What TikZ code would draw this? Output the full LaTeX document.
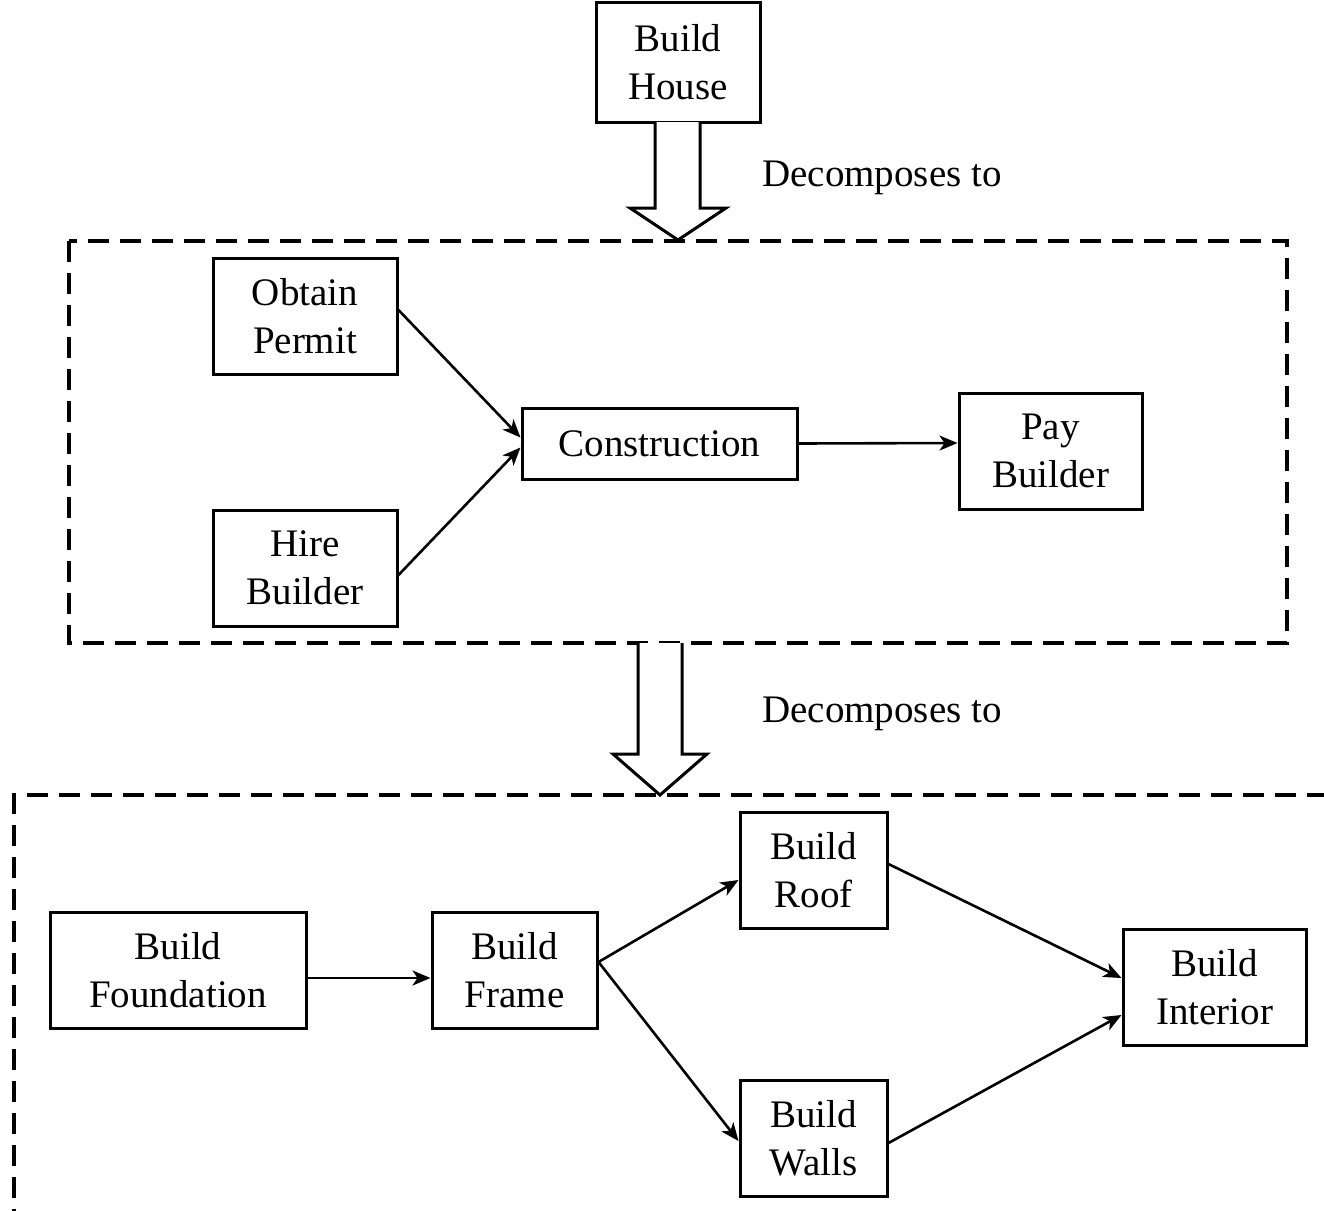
\documentclass[tikz,border=0pt]{standalone}
\usepackage{fontspec}
\setmainfont{Liberation Serif}
\usetikzlibrary{arrows.meta}
\begin{document}
\begin{tikzpicture}[x=1pt,y=-1pt,
  task/.style={draw, line width=3pt, align=center, inner sep=0pt,
    font=\fontsize{39}{48}\selectfont},
  flow/.style={line width=2.6pt, -{Stealth[length=18pt,width=15pt,inset=5pt]}},
  group/.style={line width=3.2pt, dash pattern=on 21pt off 11pt},
  blockarrow/.style={draw, line width=3pt, fill=white, line join=miter},
  caption/.style={font=\fontsize{39}{48}\selectfont, anchor=west, inner sep=0pt}]
\useasboundingbox (0,0) rectangle (1324,1210);
\clip (0,0) rectangle (1324,1210);

% dashed group frames
\draw[group] (69,241) rectangle (1287,643);
\draw[group] (14,1230) -- (14,795) -- (1340,795);

% top level task
\node[task, minimum width=164pt, minimum height=120pt] (house) at (678,62) {Build\\House};

% first decomposition arrow
\draw[blockarrow] (655,122) -- (655,208) -- (630,208) -- (678,240) -- (726,208) -- (700,208) -- (700,122);
\node[caption] (dec1) at (762,178) {Decomposes to};

% first level
\node[task, minimum width=184pt, minimum height=116pt] (permit) at (305,316) {Obtain\\Permit};
\node[task, minimum width=184pt, minimum height=116pt] (hire) at (305,568) {Hire\\Builder};
\node[task, minimum width=275pt, minimum height=71pt] (cons) at (659.5,443.5) {Construction};
\node[task, minimum width=183pt, minimum height=116pt] (pay) at (1050.5,451) {Pay\\Builder};

\draw[flow] ([yshift=6]permit.east) -- ([yshift=6]cons.west);
\draw[flow] ([yshift=-7]hire.east) -- ([yshift=-4]cons.west);
\draw[flow] (cons.east) -- ([yshift=8]pay.west);

% second decomposition arrow
\draw[blockarrow] (638,643) -- (638,754) -- (613,754) -- (660,795) -- (707,754) -- (682,754) -- (682,643);
\node[caption] (dec2) at (762,714) {Decomposes to};

% second level
\node[task, minimum width=256pt, minimum height=116pt] (found) at (178,970) {Build\\Foundation};
\node[task, minimum width=165pt, minimum height=116pt] (frame) at (514.5,970) {Build\\Frame};
\node[task, minimum width=147pt, minimum height=116pt] (roof) at (813.5,870) {Build\\Roof};
\node[task, minimum width=147pt, minimum height=116pt] (walls) at (813.5,1138) {Build\\Walls};
\node[task, minimum width=183pt, minimum height=116pt] (interior) at (1214.5,987) {Build\\Interior};

\draw[flow] ([yshift=-8]found.east) -- ([yshift=-8]frame.west);
\draw[flow] ([yshift=8]frame.east) -- ([yshift=-10]roof.west);
\draw[flow] ([yshift=8]frame.east) -- ([yshift=-3]walls.west);
\draw[flow] ([yshift=6]roof.east) -- ([yshift=9]interior.west);
\draw[flow] ([yshift=-5]walls.east) -- ([yshift=-28]interior.west);
\end{tikzpicture}
\end{document}
